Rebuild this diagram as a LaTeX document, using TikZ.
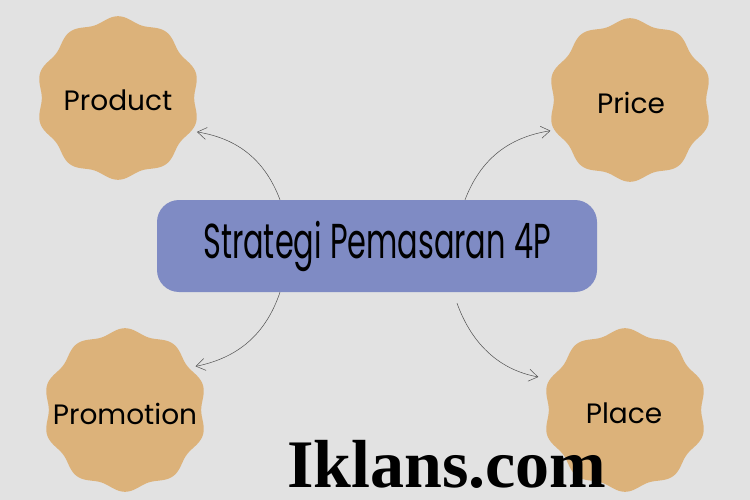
\documentclass[tikz,border=0pt]{standalone}
\usepackage{fontspec}
\setmainfont{Liberation Serif}
\newfontfamily\handfont{Poppins}
\usetikzlibrary{arrows.meta}

\definecolor{bggray}{RGB}{226,226,226}
\definecolor{sand}{RGB}{220,178,122}
\definecolor{lavender}{RGB}{127,139,196}
\definecolor{arrgray}{RGB}{80,80,80}

\begin{document}
\begin{tikzpicture}
	[x=1pt, y=-1pt,
	 main/.style = {circle, minimum size=170pt, font=\handfont\fontsize{28}{28}\selectfont},
	 title/.style = {fill=lavender, rounded corners=22pt, minimum width=440pt, minimum height=92pt, font=\handfont\fontsize{49}{49}\selectfont},
	 link/.style = {draw=arrgray, line width=0.5pt, -{Straight Barb[length=9pt,width=12pt]}}]
	\fill[bggray] (0,0) rectangle (750,500);
	\useasboundingbox (0,0) rectangle (750,500);
	\foreach \p in {(118,98),(630,100),(125,410),(625,410)}
		\fill[sand, shift={\p}] plot[domain=0:360, samples=241] (\x:{79+2.8*cos(10*(\x-90))}) -- cycle;
	\node[main] (product) at (118,100) {Product};
	\node[main] (price) at (631,103) {Price};
	\node[main] (promotion) at (125,414) {Promotion};
	\node[main] (place) at (624,413) {Place};
	\node[title] (strategi) at (377,246) {\scalebox{0.62}[1]{Strategi Pemasaran 4P}};
	\node[anchor=base, inner sep=0pt, font=\bfseries\fontsize{68}{68}\selectfont] (site) at (447,487) {Iklans.com};
	\draw[link] ([xshift=-97pt]strategi.north) to [bend right=30] (product.-22);
	\draw[link] ([xshift=88pt]strategi.north) to [bend left=30] (price.-161);
	\draw[link] ([xshift=-97pt]strategi.south) to [bend left=30] (promotion.34);
	\draw[link, shorten >=8pt] ([xshift=80pt, yshift=-11pt]strategi.south) to [bend right=30] (place.156);
\end{tikzpicture}
\end{document}
